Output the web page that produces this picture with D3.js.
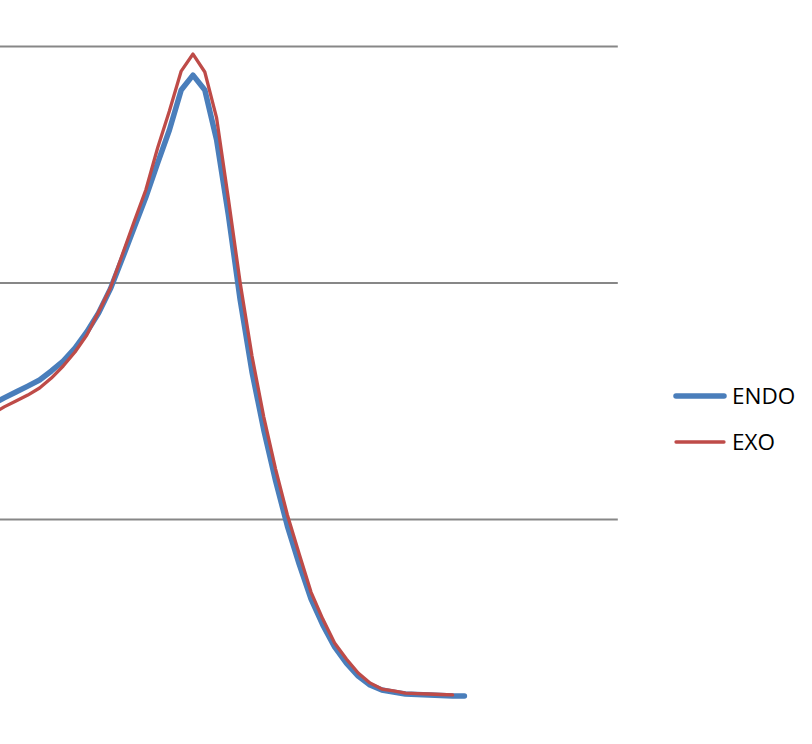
<!DOCTYPE html>
<html>
<head>
<meta charset="utf-8">
<script src="https://cdn.jsdelivr.net/npm/d3@7"></script>
<style>
  html, body { margin: 0; padding: 0; background: #ffffff; }
  svg { display: block; }
</style>
</head>
<body>
<svg id="chart" width="812" height="744"></svg>
<script>
// ---- data ----
const seriesNames = ["ENDO", "EXO"];
const gridValues = [100, 200, 300];
const endoValues = [148.6, 151.2, 153.7, 156.2, 158.8, 162.6, 166.8, 172.3, 179.1, 187.1,
  197.3, 210.0, 223.0, 236.0, 250.5, 264.5, 281.4, 287.7, 281.4, 260.3,
  228.5, 192.6, 162.2, 137.6, 116.1, 97.0, 80.9, 66.2, 55.2, 45.9,
  39.1, 33.6, 29.8, 27.7, 26.8, 26.0, 25.8, 25.6, 25.4, 25.2, 25.2];
const exoValues = [144.4, 147.4, 149.9, 152.4, 155.4, 159.6, 164.7, 170.6, 177.8, 187.5,
  197.7, 211.6, 225.6, 239.1, 256.9, 272.5, 289.4, 296.6, 289.0, 269.6,
  235.3, 199.8, 168.9, 143.1, 121.1, 101.7, 85.2, 69.1, 57.7, 47.6,
  40.8, 34.9, 30.7, 28.1, 27.3, 26.4, 26.2, 26.0, 25.8, 25.6];

// ---- layout ----
const svg = d3.select("#chart");
const x = d3.scaleLinear().domain([0, 53]).range([-7.6, 617.8]);
const y = d3.scaleLinear().domain([0, 300]).range([755.5, 46]);

// gridlines
const grid = svg.append("g")
  .attr("transform", `translate(${x(0)},0)`)
  .call(d3.axisLeft(y).tickValues(gridValues).tickSize(-(x(53) - x(0))).tickFormat(""));
grid.select(".domain").remove();
grid.selectAll(".tick line").attr("stroke", "#878787").attr("stroke-width", 1.8);

const line = d3.line().x((d, i) => x(i)).y(d => y(d));

const styles = {
  ENDO: { color: "#4a7ebb", width: 5.5 },
  EXO: { color: "#be4b48", width: 3.3 }
};
const data = { ENDO: endoValues, EXO: exoValues };

seriesNames.forEach(name => {
  svg.append("path")
    .datum(data[name])
    .attr("d", line)
    .attr("fill", "none")
    .attr("stroke", styles[name].color)
    .attr("stroke-width", styles[name].width)
    .attr("stroke-linejoin", "round")
    .attr("stroke-linecap", "round");
});

// legend
const legend = svg.append("g");
seriesNames.forEach((name, i) => {
  const ly = 396 + i * 46;
  legend.append("line")
    .attr("x1", 676).attr("x2", 724)
    .attr("y1", ly).attr("y2", ly)
    .attr("stroke", styles[name].color)
    .attr("stroke-width", styles[name].width)
    .attr("stroke-linecap", "round");
  legend.append("text")
    .attr("x", 732).attr("y", ly + 8)
    .attr("font-family", "Open Sans, Liberation Sans, sans-serif")
    .attr("font-size", 22.5)
    .attr("fill", "#000")
    .text(name);
});
</script>
</body>
</html>
